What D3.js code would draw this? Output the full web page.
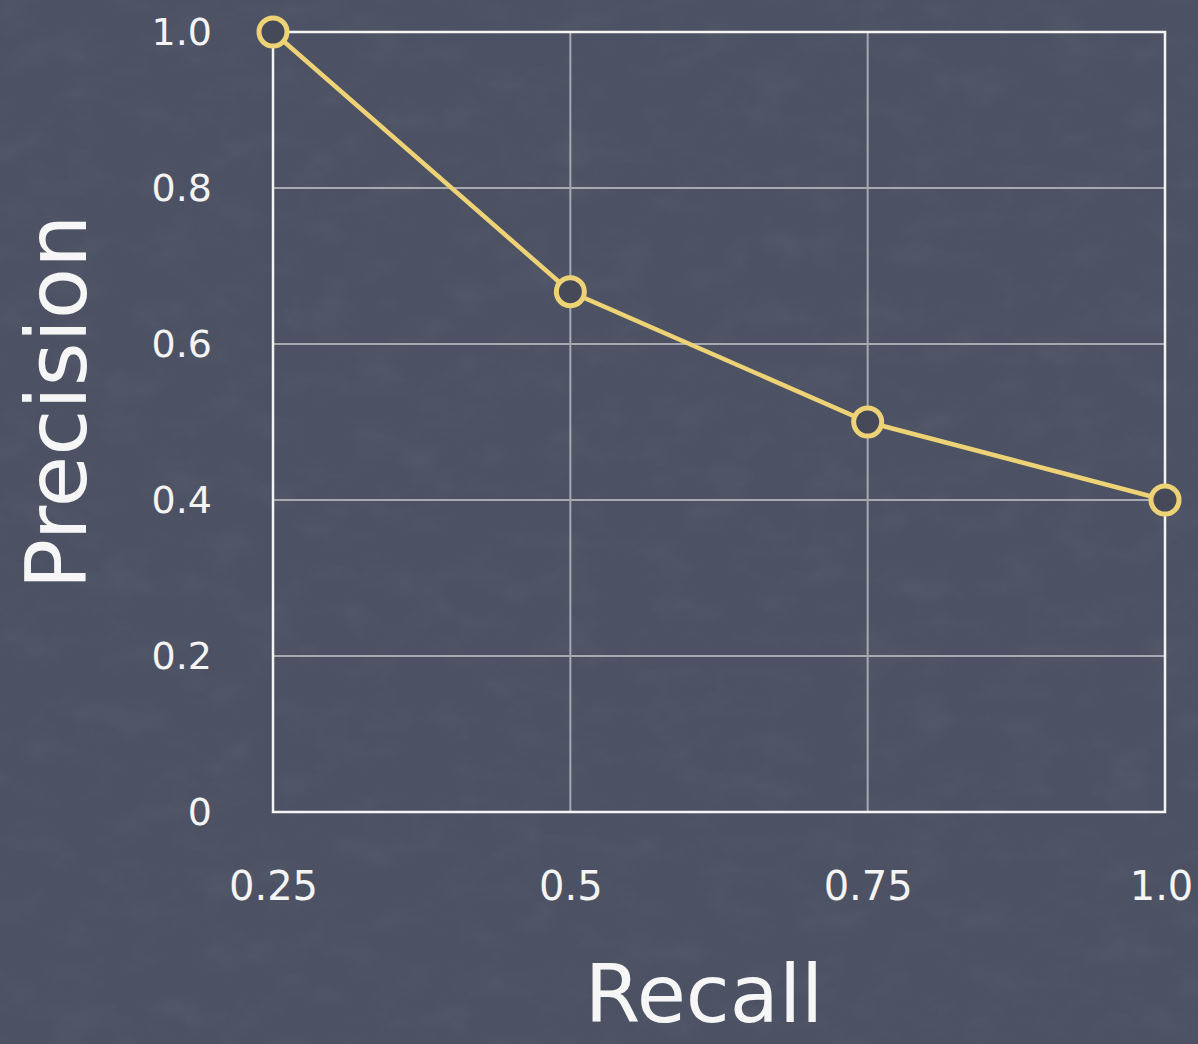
<!DOCTYPE html>
<html>
<head>
<meta charset="utf-8">
<script src="https://cdn.jsdelivr.net/npm/d3@7"></script>
<style>
  html, body { margin: 0; padding: 0; background: #4e5465; }
  svg { display: block; }
</style>
</head>
<body>
<svg id="chart" width="1198" height="1044"></svg>
<script>
// Precision/recall values
const recall = [0.25, 0.5, 0.75, 1.0];
const precision = [1.0, 0.667, 0.5, 0.4];
const xTicks = [0.25, 0.5, 0.75, 1.0];
const xTickLabels = ["0.25", "0.5", "0.75", "1.0"];
const yTicks = [0, 0.2, 0.4, 0.6, 0.8, 1.0];
const yTickLabels = ["0", "0.2", "0.4", "0.6", "0.8", "1.0"];

(function () {
  const W = 1198, H = 1044;
  const plotL = 273, plotR = 1165, plotT = 32, plotB = 812;
  const font = "'DejaVu Sans', sans-serif";

  const svg = d3.select("#chart");

  // Chalkboard-like background with faint texture
  const defs = svg.append("defs");
  const f = defs.append("filter").attr("id", "grain").attr("x", 0).attr("y", 0).attr("width", "100%").attr("height", "100%");
  f.append("feTurbulence").attr("type", "fractalNoise").attr("baseFrequency", "0.02 0.03").attr("numOctaves", 5).attr("seed", 11).attr("result", "n");
  f.append("feColorMatrix").attr("in", "n").attr("type", "matrix")
    .attr("values", "0 0 0 0 1  0 0 0 0 1  0 0 0 0 1  1.0 0 0 0 -0.45");
  svg.append("rect").attr("width", W).attr("height", H).attr("fill", "#4c5263");
  svg.append("rect").attr("width", W).attr("height", H).attr("filter", "url(#grain)").attr("opacity", 0.07);

  const x = d3.scaleLinear().domain([0.25, 1.0]).range([plotL, plotR]);
  const y = d3.scaleLinear().domain([0, 1.0]).range([plotB, plotT]);

  // Grid lines
  const grid = svg.append("g");
  grid.selectAll("line.v").data(xTicks.slice(1, -1)).join("line")
    .attr("x1", d => x(d)).attr("x2", d => x(d)).attr("y1", plotT).attr("y2", plotB)
    .attr("stroke", "#a7a9b0").attr("stroke-width", 2);
  grid.selectAll("line.h").data(yTicks.slice(1, -1)).join("line")
    .attr("x1", plotL).attr("x2", plotR).attr("y1", d => y(d)).attr("y2", d => y(d))
    .attr("stroke", "#a7a9b0").attr("stroke-width", 2);

  // Plot frame
  svg.append("rect").attr("x", plotL).attr("y", plotT).attr("width", plotR - plotL).attr("height", plotB - plotT)
    .attr("fill", "none").attr("stroke", "#f4f4f4").attr("stroke-width", 2.5);

  // Axes (labels only)
  const xAxis = d3.axisBottom(x).tickValues(xTicks).tickFormat((d, i) => xTickLabels[i]).tickSize(0).tickPadding(60);
  const gx = svg.append("g").attr("transform", `translate(0,${plotB})`).call(xAxis);
  gx.select(".domain").remove();
  gx.selectAll("text").attr("font-family", font).attr("font-size", 40).attr("fill", "#f4f4f4");
  gx.selectAll(".tick:last-of-type text").attr("dx", -4);

  const yAxis = d3.axisLeft(y).tickValues(yTicks).tickFormat((d, i) => yTickLabels[i]).tickSize(0).tickPadding(61);
  const gy = svg.append("g").attr("transform", `translate(${plotL},0)`).call(yAxis);
  gy.select(".domain").remove();
  gy.selectAll("text").attr("font-family", font).attr("font-size", 38).attr("fill", "#f4f4f4");

  // Axis titles
  svg.append("text").attr("x", 704).attr("y", 1022).attr("text-anchor", "middle")
    .attr("font-family", font).attr("font-size", 80).attr("fill", "#f6f6f6").text("Recall");
  svg.append("text").attr("transform", "translate(86,402) rotate(-90)").attr("text-anchor", "middle")
    .attr("font-family", font).attr("font-size", 84).attr("fill", "#f6f6f6").text("Precision");

  // Series
  const pts = recall.map((r, i) => ({ r, p: precision[i] }));
  svg.append("path").datum(pts)
    .attr("d", d3.line().x(d => x(d.r)).y(d => y(d.p)))
    .attr("fill", "none").attr("stroke", "#eed276").attr("stroke-width", 4.5);
  svg.selectAll("circle.pt").data(pts).join("circle")
    .attr("cx", d => x(d.r)).attr("cy", d => y(d.p)).attr("r", 14)
    .attr("fill", "#464958").attr("stroke", "#eed276").attr("stroke-width", 5);
})();
</script>
</body>
</html>
